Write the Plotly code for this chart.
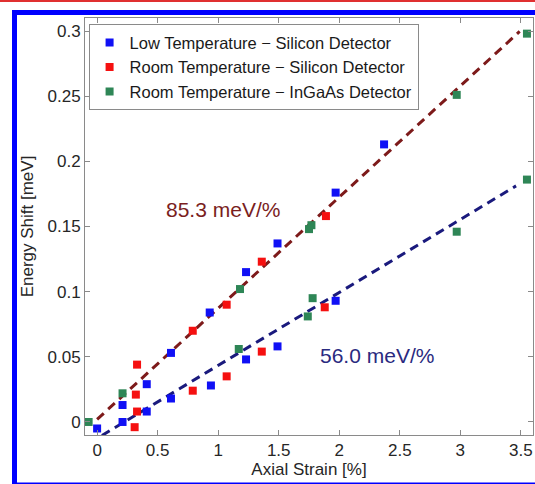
import plotly.graph_objects as go

# Low Temperature - Silicon Detector
low_si_x = [0.00, 0.21, 0.21, 0.41, 0.41, 0.61, 0.61, 0.93, 0.94, 1.23, 1.23, 1.49, 1.49, 1.97, 1.97, 2.37]
low_si_y = [-0.005, 0.000, 0.013, 0.008, 0.029, 0.018, 0.053, 0.084, 0.028, 0.048, 0.115, 0.058, 0.137, 0.093, 0.176, 0.213]

# Room Temperature - Silicon Detector
room_si_x = [0.31, 0.33, 0.32, 0.33, 0.79, 0.79, 1.07, 1.07, 1.36, 1.36, 1.88, 1.89]
room_si_y = [-0.004, 0.008, 0.021, 0.044, 0.024, 0.070, 0.035, 0.090, 0.054, 0.123, 0.088, 0.158]

# Room Temperature - InGaAs Detector
room_ing_x = [-0.07, 0.21, 1.17, 1.18, 1.74, 1.78, 1.75, 1.77, 2.97, 2.97, 3.55, 3.55]
room_ing_y = [0.000, 0.022, 0.056, 0.102, 0.081, 0.095, 0.148, 0.151, 0.146, 0.251, 0.186, 0.298]

# linear fits (slope in meV per %, intercept in meV)
fit_high_slope, fit_high_icpt = 0.0853, 0.002
fit_low_slope, fit_low_icpt = 0.0560, -0.0126
fit_high_x = [0.0, 3.49]
fit_low_x = [0.04, 3.46]

x_ticks = [0, 0.5, 1, 1.5, 2, 2.5, 3, 3.5]
x_tick_labels = ["0", "0.5", "1", "1.5", "2", "2.5", "3", "3.5"]
y_ticks = [0, 0.05, 0.1, 0.15, 0.2, 0.25, 0.3]
y_tick_labels = ["0", "0.05", "0.1", "0.15", "0.2", "0.25", "0.3"]

FONT = "Liberation Sans, Arial, Helvetica, sans-serif"

fig = go.Figure()

fig.add_trace(go.Scatter(
    x=fit_high_x, y=[fit_high_slope * v + fit_high_icpt for v in fit_high_x],
    mode="lines", line=dict(color="#7d1a1a", width=3, dash="9px,6px"),
    showlegend=False, hoverinfo="skip"))
fig.add_trace(go.Scatter(
    x=fit_low_x, y=[fit_low_slope * v + fit_low_icpt for v in fit_low_x],
    mode="lines", line=dict(color="#1a1a7d", width=3, dash="9px,6px"),
    showlegend=False, hoverinfo="skip"))

marker_common = dict(symbol="square", size=8, line=dict(width=0))
fig.add_trace(go.Scatter(x=low_si_x, y=low_si_y, mode="markers",
                         name="Low Temperature \u2212 Silicon Detector",
                         marker=dict(color="#1010f5", **marker_common)))
fig.add_trace(go.Scatter(x=room_si_x, y=room_si_y, mode="markers",
                         name="Room Temperature \u2212 Silicon Detector",
                         marker=dict(color="#f51010", **marker_common)))
fig.add_trace(go.Scatter(x=room_ing_x, y=room_ing_y, mode="markers",
                         name="Room Temperature \u2212 InGaAs Detector",
                         marker=dict(color="#2e8656", **marker_common)))

fig.add_annotation(x=1.04, y=0.163, xref="x", yref="y", text="85.3 meV/%",
                   showarrow=False, font=dict(family=FONT, size=21, color="#7a1e1e"))
fig.add_annotation(x=2.31, y=0.051, xref="x", yref="y", text="56.0 meV/%",
                   showarrow=False, font=dict(family=FONT, size=21, color="#2a2a80"))

# page frame decorations seen in the reference (blue border, red top line)
L, T, W_PLOT, H_PLOT = 85, 18, 448, 417
def px_x(p):
    return (p - L) / W_PLOT
def px_y(p):
    return (T + H_PLOT - p) / H_PLOT

fig.add_shape(type="rect", xref="paper", yref="paper",
              x0=px_x(14.5), x1=px_x(538), y0=px_y(485), y1=px_y(12.5),
              line=dict(color="#0000ff", width=5), fillcolor="rgba(0,0,0,0)", layer="above")
fig.add_shape(type="line", xref="paper", yref="paper",
              x0=px_x(-5), x1=px_x(540), y0=px_y(1), y1=px_y(1),
              line=dict(color="#e03030", width=2))

axis_common = dict(
    showline=True, linecolor="#8a8a8a", linewidth=1, mirror="ticks",
    ticks="inside", ticklen=5, tickcolor="#8a8a8a", showgrid=False, zeroline=False,
    tickfont=dict(family=FONT, size=17, color="#262626"),
)

fig.update_layout(
    width=535, height=484,
    margin=dict(l=L, r=535 - L - W_PLOT, t=T, b=484 - T - H_PLOT),
    paper_bgcolor="white", plot_bgcolor="white",
    font=dict(family=FONT, size=17, color="#262626"),
    xaxis=dict(range=[-0.1, 3.6], tickvals=x_ticks, ticktext=x_tick_labels,
               title=dict(text="Axial Strain [%]", standoff=0,
                          font=dict(family=FONT, size=17, color="#262626")),
               **axis_common),
    yaxis=dict(range=[-0.01, 0.31], tickvals=y_ticks, ticktext=y_tick_labels,
               title=dict(text="Energy Shift [meV]", standoff=9,
                          font=dict(family=FONT, size=17, color="#262626")),
               **axis_common),
    legend=dict(x=0.008, y=0.985, xanchor="left", yanchor="top",
                bgcolor="white", bordercolor="#8a8a8a", borderwidth=1,
                font=dict(family=FONT, size=16.5, color="#1a1a1a"),
                itemwidth=30, tracegroupgap=0),
    showlegend=True,
)

fig.write_html("out.html")
